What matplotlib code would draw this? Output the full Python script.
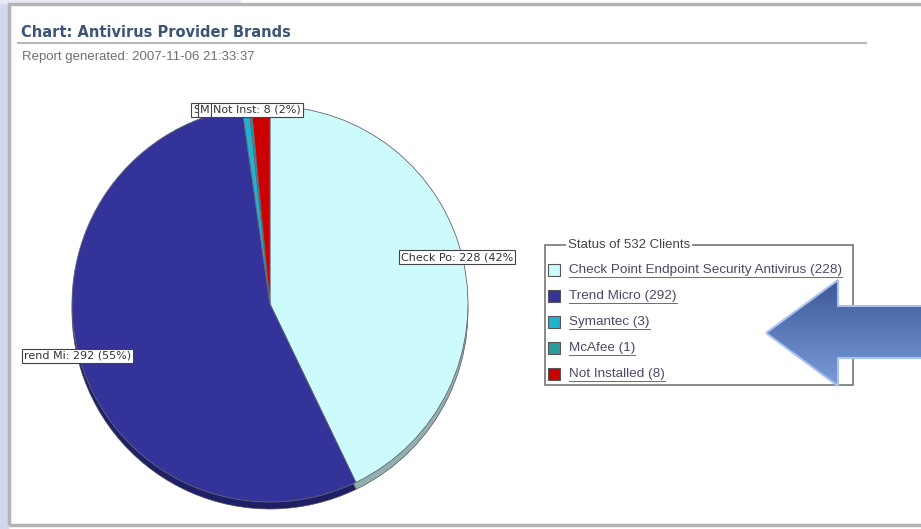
import matplotlib
matplotlib.use("Agg")
import matplotlib.pyplot as plt
import numpy as np
from matplotlib.patches import Rectangle, Polygon
from matplotlib.colors import LinearSegmentedColormap

# data
brands = ["Check Point Endpoint Security Antivirus", "Trend Micro", "Symantec", "McAfee", "Not Installed"]
clients = [228, 292, 3, 1, 8]
pie_labels = ["Check Po: 228 (42%", "rend Mi: 292 (55%)", "S", "M", "Not Inst: 8 (2%)"]
top_colors = ["#cdfbfc", "#34339a", "#20b2cf", "#2b9c9c", "#cc0000"]
rim_colors = ["#93b0b0", "#1f1f66", "#147a8e", "#1c6b6b", "#880000"]

W, H = 921, 529


def Y(y):
    """screen pixel row -> data y"""
    return H - y


fig = plt.figure(figsize=(W / 100, H / 100), dpi=100)
ax = fig.add_axes([0, 0, 1, 1])
ax.axis("off")

# slide background + frame
ax.add_patch(Rectangle((0, 0), 8, H, color="#d4d7ee", zorder=0))
ax.add_patch(Rectangle((0, Y(3)), 240, 3, color="#e8e9f5", zorder=0))
ax.add_patch(Rectangle((9, Y(525)), 930, 521, fill=False, edgecolor="#b4b4b4", lw=2.5, zorder=1))

# header
ax.text(21, Y(37), "Chart: Antivirus Provider Brands", fontsize=10.5, fontweight="bold",
        color="#3c5577", family="DejaVu Sans", va="baseline")
ax.plot([18, 866], [Y(43), Y(43)], color="#b8b8b8", lw=1.5)
ax.text(22, Y(57), "Report generated: 2007-11-06 21:33:37", fontsize=9.5, color="#707070",
        family="Liberation Sans", va="center")

# pie: rim first, then top face
cx, cy, r = 270, Y(304), 198
ax.pie(clients, colors=rim_colors, startangle=90, counterclock=False,
       center=(cx, cy - 7), radius=r, wedgeprops=dict(edgecolor="#555555", lw=0.5))
ax.pie(clients, colors=top_colors, startangle=90, counterclock=False,
       center=(cx, cy), radius=r, wedgeprops=dict(edgecolor="#666677", lw=0.6))

# pie labels
lbl_pos = [(401, 257), (24, 356), (193, 110), (200, 110), (213, 110)]
for txt, (lx, ly) in zip(pie_labels, lbl_pos):
    ax.text(lx, Y(ly), txt, fontsize=8, color="#333333", family="DejaVu Sans", va="center",
            bbox=dict(boxstyle="square,pad=0.2", fc="white", ec="#444444", lw=0.8), zorder=5)

ax.set_xlim(0, W)
ax.set_ylim(0, H)

# legend
ax.add_patch(Rectangle((545, Y(385)), 308, 140, fill=False, edgecolor="#777777", lw=1.2, zorder=3))
ax.text(568, Y(245), "Status of %d Clients" % sum(clients), fontsize=9.5, color="#444444",
        family="Liberation Sans", va="center",
        bbox=dict(boxstyle="square,pad=0.15", fc="white", ec="none"), zorder=4)
rows = [270, 296, 322, 348, 374]
fig.canvas.draw()
rend = fig.canvas.get_renderer()
inv = ax.transData.inverted()
for name, n, col, ry in zip(brands, clients, top_colors, rows):
    ax.add_patch(Rectangle((548, Y(ry) - 6), 12, 12, facecolor=col, edgecolor="#555555", lw=0.8, zorder=4))
    t = ax.text(569, Y(ry), "%s (%d)" % (name, n), fontsize=9.7, color="#4a4a66",
                family="Liberation Sans", va="center", zorder=4)
    bb = t.get_window_extent(renderer=rend)
    (x0, _), (x1, _) = inv.transform([(bb.x0, bb.y0), (bb.x1, bb.y0)])
    ax.plot([x0, x1], [Y(ry) - 7, Y(ry) - 7], color="#6a6a80", lw=0.7, zorder=4)

# big blue arrow
pts = [(766, Y(333)), (838, Y(280)), (838, Y(306)), (930, Y(306)),
       (930, Y(358)), (838, Y(358)), (838, Y(386))]
arrow = Polygon(pts, closed=True, facecolor="none", edgecolor="#a9c1ee", lw=1.5, zorder=7)
ax.add_patch(arrow)
cmap = LinearSegmentedColormap.from_list("arr", ["#3a5595", "#7e9fdc"])
grad = np.linspace(0, 1, 256).reshape(-1, 1)
im = ax.imshow(grad, cmap=cmap, extent=[760, 935, Y(390), Y(276)], aspect="auto",
               origin="upper", zorder=6)
im.set_clip_path(arrow)

ax.set_xlim(0, W)
ax.set_ylim(0, H)
fig.savefig("out.png", dpi=100, facecolor="white")
